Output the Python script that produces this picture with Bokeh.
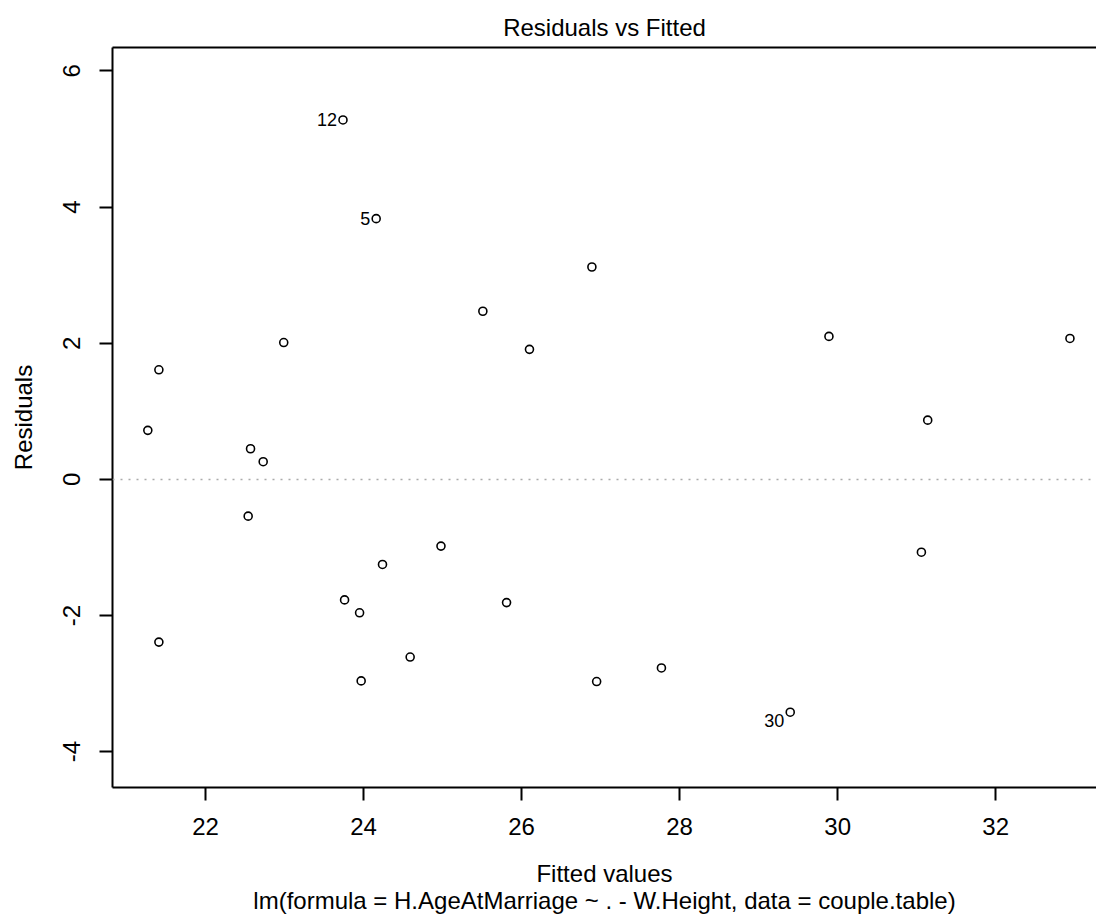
from bokeh.plotting import figure
from bokeh.models import (ColumnDataSource, FixedTicker, LinearAxis, Span,
                          LabelSet, Range1d)
from bokeh.core.properties import value
from bokeh.embed import file_html
from bokeh.resources import INLINE

# ---- data ----
fitted = [21.27, 21.41, 21.41, 22.57, 22.73, 22.54, 22.99, 23.74, 24.16, 23.76,
          23.95, 24.24, 23.97, 24.98, 24.59, 25.81, 25.51, 26.10, 26.89, 26.95,
          27.77, 29.40, 29.89, 31.14, 31.06, 32.94]
residuals = [0.72, 1.61, -2.39, 0.45, 0.26, -0.54, 2.01, 5.28, 3.83, -1.77,
             -1.96, -1.25, -2.96, -0.98, -2.61, -1.81, 2.47, 1.91, 3.12, -2.97,
             -2.77, -3.42, 2.10, 0.87, -1.07, 2.07]
id_fitted = [23.74, 24.16, 29.40]
id_resid = [5.28, 3.83, -3.42]
id_labels = ["12", "5", "30"]
id_dy = [0, 0, -8]  # label vertical nudge (px)

x_ticks = [22, 24, 26, 28, 30, 32]
y_ticks = [-4, -2, 0, 2, 4, 6]
y_tick_labels = {t: str(t) for t in y_ticks}  # plain hyphen minus like the original

title_text = "Residuals vs Fitted"
x_label = "Fitted values"
y_label = "Residuals"
sub_caption = "lm(formula = H.AgeAtMarriage ~ . - W.Height, data = couple.table)"

FONT = "Liberation Sans"

p = figure(width=1096, height=918, output_backend="svg", toolbar_location=None,
           x_range=Range1d(20.823, 33.276), y_range=Range1d(-4.526, 6.344),
           min_border_left=112, min_border_right=0, min_border_top=47,
           min_border_bottom=131, x_axis_location=None, y_axis_location=None)
p.background_fill_color = "white"
p.border_fill_color = "white"
p.outline_line_color = None
p.grid.visible = False

p.title.text = title_text
p.title.align = "center"
p.title.text_font = FONT
p.title.text_font_size = "24px"
p.title.text_font_style = "normal"
p.title.text_color = "black"
p.title.standoff = 13

def style_axis(ax):
    ax.axis_line_color = "black"
    ax.axis_line_width = 2
    ax.major_tick_line_color = "black"
    ax.major_tick_line_width = 2
    ax.major_tick_out = 13
    ax.major_tick_in = 0
    ax.minor_tick_line_color = None
    ax.major_label_text_font = FONT
    ax.major_label_text_font_size = "24px"
    ax.major_label_text_color = "black"
    ax.axis_label_text_font = FONT
    ax.axis_label_text_font_size = "24px"
    ax.axis_label_text_font_style = "normal"
    ax.axis_label_text_color = "black"

xaxis = LinearAxis(ticker=FixedTicker(ticks=x_ticks),
                   axis_label=x_label + "\n" + sub_caption)
style_axis(xaxis)
xaxis.major_label_standoff = 17
xaxis.axis_label_standoff = 22
xaxis.axis_label_text_line_height = 1.0
p.add_layout(xaxis, "below")

yaxis = LinearAxis(ticker=FixedTicker(ticks=y_ticks), axis_label=y_label)
style_axis(yaxis)
yaxis.major_label_orientation = "vertical"
yaxis.major_label_standoff = 19
yaxis.axis_label_standoff = 24
yaxis.major_label_overrides = y_tick_labels
p.add_layout(yaxis, "left")

top = LinearAxis(ticker=FixedTicker(ticks=[]))
style_axis(top)
top.major_label_text_font_size = "0px"
p.add_layout(top, "above")

zero = Span(location=0, dimension="width", line_color="#aaaaaa",
            line_dash="2 6", line_width=1.5)
p.add_layout(zero)

src = ColumnDataSource(dict(x=fitted, y=residuals))
p.scatter("x", "y", source=src, marker="circle", size=8, fill_color=None,
          line_color="black", line_width=1.6)

lab_src = ColumnDataSource(dict(x=id_fitted, y=id_resid, t=id_labels, dy=id_dy))
labels = LabelSet(x="x", y="y", text="t", source=lab_src, x_offset=-6, y_offset="dy",
                  text_align="right", text_baseline="middle",
                  text_font=value(FONT), text_font_size="18px", text_color="black")
p.add_layout(labels)

open("out.html", "w").write(file_html(p, INLINE))
